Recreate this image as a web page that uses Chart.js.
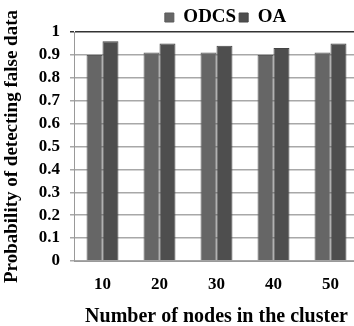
<!DOCTYPE html>
<html>
<head>
<meta charset="utf-8">
<script src="https://cdn.jsdelivr.net/npm/chart.js@4/dist/chart.umd.min.js"></script>
<style>
  html, body { margin: 0; padding: 0; background: #fff; overflow: hidden; }
  #wrap { width: 362px; height: 326px; }
</style>
</head>
<body>
<div id="wrap"><canvas id="c" width="362" height="326"></canvas></div>
<script>
// Cluster sizes on the x axis
const categories = ['10', '20', '30', '40', '50'];
// Detection probability per scheme
const odcsValues = [0.90, 0.91, 0.91, 0.90, 0.91];
const oaValues = [0.96, 0.95, 0.94, 0.93, 0.95];
// Y axis labels, bottom to top
const yTickLabels = ['0', '0.1', '0.2', '0.3', '0.4', '0.5', '0.6', '0.7', '0.8', '0.9', '1'];

const serif = '"Liberation Serif", "Times New Roman", serif';

// Nudge the legend right of the plot's centre line and a bit lower
const legendShift = {
  id: 'legendShift',
  afterLayout(chart) {
    const lg = chart.legend;
    if (lg) {
      lg.left += 9;
      lg.right += 9;
      lg.top += 5;
      lg.bottom += 5;
    }
  }
};

new Chart(document.getElementById('c'), {
  type: 'bar',
  data: {
    labels: categories,
    datasets: [
      {
        label: 'ODCS',
        data: odcsValues,
        backgroundColor: '#666666',
        borderColor: '#5a5a5a',
        borderWidth: 1,
        categoryPercentage: 0.56,
        barPercentage: 1.0
      },
      {
        label: 'OA',
        data: oaValues,
        backgroundColor: '#4e4e4e',
        borderColor: '#444444',
        borderWidth: 1,
        categoryPercentage: 0.56,
        barPercentage: 1.0
      }
    ]
  },
  options: {
    responsive: false,
    animation: false,
    layout: { padding: { top: 0, left: 0, right: 3, bottom: 0 } },
    plugins: {
      tooltip: { enabled: false },
      legend: {
        position: 'top',
        fullSize: false,
        labels: {
          boxWidth: 9,
          boxHeight: 9,
          padding: 3,
          color: '#000',
          font: { family: serif, size: 19, weight: 'bold' }
        }
      }
    },
    scales: {
      x: {
        grid: { display: false, drawTicks: false },
        border: { display: true, color: '#999999', width: 1 },
        ticks: {
          color: '#000',
          padding: 13,
          autoSkip: false,
          font: { family: serif, size: 17, weight: 'bold' }
        },
        title: {
          display: true,
          text: 'Number of nodes in the cluster',
          color: '#000',
          padding: { top: 0, bottom: -3 },
          font: { family: serif, size: 20, weight: 'bold' }
        },
        afterFit: (scale) => { scale.height = 65; }
      },
      y: {
        min: 0,
        max: 1,
        grid: {
          color: (ctx) => (ctx.tick && ctx.tick.value >= 1 ? '#333333' : '#a8a8a8'),
          lineWidth: 1.5,
          drawTicks: true,
          tickLength: 4
        },
        border: { display: true, color: '#999999', width: 1 },
        ticks: {
          stepSize: 0.1,
          autoSkip: false,
          color: '#000',
          padding: 10,
          font: { family: serif, size: 17, weight: 'bold' },
          callback: (value, index) => yTickLabels[index]
        },
        title: {
          display: true,
          text: 'Probability of detecting false data',
          color: '#000',
          padding: { top: 1, bottom: 0 },
          font: { family: serif, size: 19, weight: 'bold' }
        },
        afterFit: (scale) => { scale.width = 74; }
      }
    }
  },
  plugins: [legendShift]
});
</script>
</body>
</html>
